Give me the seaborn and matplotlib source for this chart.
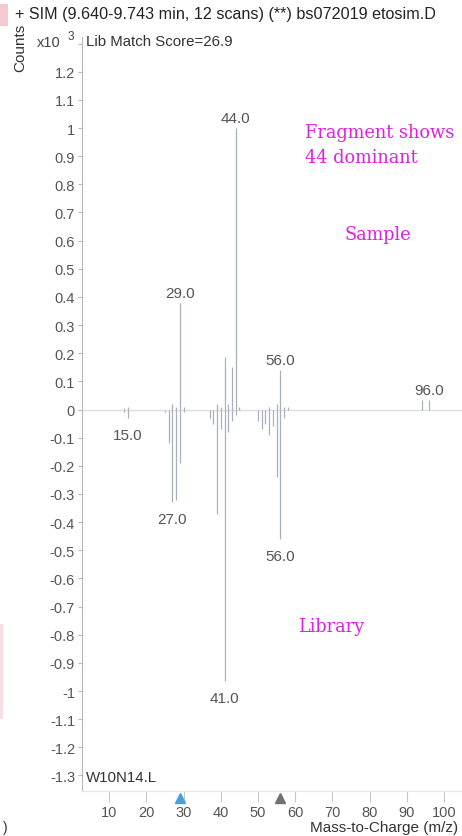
import matplotlib
matplotlib.use("Agg")
import matplotlib.pyplot as plt
import matplotlib.transforms as mtransforms
from matplotlib.patches import Rectangle
import seaborn as sns
import pandas as pd

# ---------------- data ----------------
sample_mz = [14, 15, 27, 28, 30, 29, 39, 40, 41, 42, 43, 44, 45, 53, 55, 56, 57, 58, 94, 96]
sample_int = [0.005, 0.01, 0.02, 0.01, 0.01, 0.38, 0.02, 0.01, 0.185, 0.02, 0.15, 1.0, 0.01,
              0.01, 0.02, 0.14, 0.01, 0.01, 0.035, 0.035]

library_mz = [14, 15, 25, 26, 27, 28, 29, 30, 37, 38, 39, 40, 41, 42, 43, 44,
              50, 51, 52, 53, 54, 55, 56, 57]
library_int = [-0.01, -0.03, -0.01, -0.12, -0.33, -0.32, -0.19, -0.01, -0.03, -0.05, -0.37, -0.07,
               -0.965, -0.08, -0.04, -0.02,
               -0.04, -0.07, -0.05, -0.09, -0.06, -0.24, -0.46, -0.03]

pos_labels_mz = [29, 44, 56, 96]
pos_labels_txt = ["29.0", "44.0", "56.0", "96.0"]
neg_labels_mz = [15, 27, 41, 56]
neg_labels_txt = ["15.0", "27.0", "41.0", "56.0"]

ytick_vals = [1.3, 1.2, 1.1, 1.0, 0.9, 0.8, 0.7, 0.6, 0.5, 0.4, 0.3, 0.2, 0.1, 0.0,
              -0.1, -0.2, -0.3, -0.4, -0.5, -0.6, -0.7, -0.8, -0.9, -1.0, -1.1, -1.2, -1.3]
ytick_txt = ["", "1.2", "1.1", "1", "0.9", "0.8", "0.7", "0.6", "0.5", "0.4", "0.3", "0.2", "0.1", "0",
             "-0.1", "-0.2", "-0.3", "-0.4", "-0.5", "-0.6", "-0.7", "-0.8", "-0.9", "-1", "-1.1", "-1.2", "-1.3"]
xtick_vals = [10, 20, 30, 40, 50, 60, 70, 80, 90, 100]
marker_mz = [29, 56]
marker_colors = ["#4a9fd8", "#707070"]

sample_df = pd.DataFrame({"mz": sample_mz, "counts": sample_int})
library_df = pd.DataFrame({"mz": library_mz, "counts": library_int})
lib_lookup = dict(zip(library_mz, library_int))
samp_lookup = dict(zip(sample_mz, sample_int))

# ---------------- style ----------------
sns.set_theme(style="white")
plt.rcParams["font.family"] = ["Liberation Sans", "DejaVu Sans"]

W, H = 462, 837
fig = plt.figure(figsize=(W / 100, H / 100), dpi=100)
fig.patch.set_facecolor("white")

ax_left, ax_right = 82 / W, 1.0
ax_top_px, ax_bot_px = 38, 792
ax = fig.add_axes([ax_left, 1 - ax_bot_px / H, ax_right - ax_left, (ax_bot_px - ax_top_px) / H])
ax.set_facecolor("white")

zero_px, ppu = 410.5, 281.5
ax.set_ylim((zero_px - ax_bot_px) / ppu, (zero_px - ax_top_px) / ppu)
x0px, xppu = 72.0, 3.72
ax.set_xlim((82 - x0px) / xppu, (W - x0px) / xppu)

line_col = "#a9b0bb"
ax.axhline(0, color="#dcdfe4", lw=1.0, zorder=1)
ax.vlines(sample_df["mz"], 0, sample_df["counts"], color=line_col, lw=0.9, zorder=2)
ax.vlines(library_df["mz"], 0, library_df["counts"], color=line_col, lw=0.9, zorder=2)

lab_col = "#555555"
for mz, t in zip(pos_labels_mz, pos_labels_txt):
    ax.annotate(t, (mz, samp_lookup[mz]), xytext=(0, 2), textcoords="offset points",
                ha="center", va="bottom", fontsize=11, color=lab_col)
for mz, t in zip(neg_labels_mz, neg_labels_txt):
    ax.annotate(t, (mz, lib_lookup[mz]), xytext=(0, -7), textcoords="offset points",
                ha="center", va="top", fontsize=11, color=lab_col)

for s in ["top", "right"]:
    ax.spines[s].set_visible(False)
ax.spines["left"].set_color("#b8b8b8")
ax.spines["left"].set_linewidth(0.8)
ax.spines["bottom"].set_color("#e6e6e6")
ax.spines["bottom"].set_linewidth(0.8)

ax.set_yticks(ytick_vals)
ax.set_yticklabels(ytick_txt)
ax.set_xticks(xtick_vals)
ax.set_xticklabels([str(v) for v in xtick_vals])
ax.tick_params(axis="y", direction="out", length=3, width=0.8, color="#b8b8b8",
               labelsize=10.5, labelcolor="#555555", pad=2, left=True)
ax.tick_params(axis="x", direction="out", length=8, width=0.8, color="#c8c8c8",
               labelsize=10.5, labelcolor="#555555", pad=2, bottom=True)

btrans = mtransforms.blended_transform_factory(ax.transData, ax.transAxes)
for mz, c in zip(marker_mz, marker_colors):
    ax.plot([mz], [-6.5 / (ax_bot_px - ax_top_px)], marker="^", ms=7, color=c,
            transform=btrans, clip_on=False, zorder=5, mec=c)

fig.text(15 / W, 1 - 15 / H, "+ SIM (9.640-9.743 min, 12 scans) (**) bs072019 etosim.D",
         fontsize=11.6, color="#222222", va="center", ha="left")
fig.text(20 / W, 1 - 48 / H, "Counts", rotation=90, fontsize=11, color="#333333",
         va="center", ha="center")
fig.text(37 / W, 1 - 43 / H, "x10", fontsize=10.5, color="#444444", va="center", ha="left")
fig.text(68 / W, 1 - 37 / H, "3", fontsize=8.5, color="#444444", va="center", ha="left")
fig.text(86 / W, 1 - 42 / H, "Lib Match Score=26.9", fontsize=10.8, color="#333333",
         va="center", ha="left")
fig.text(86 / W, 1 - 778 / H, "W10N14.L", fontsize=10.8, color="#333333", va="center", ha="left")
fig.text(458 / W, 1 - 828 / H, "Mass-to-Charge (m/z)", fontsize=11, color="#333333",
         va="center", ha="right")
fig.text(3 / W, 1 - 828 / H, ")", fontsize=10, color="#333333", va="center", ha="left")

mag = "#dd22dd"
serif = ["DejaVu Serif"]
fig.text(305 / W, 1 - 133 / H, "Fragment shows", fontsize=12.8, color=mag, family=serif,
         va="center", ha="left")
fig.text(305 / W, 1 - 158 / H, "44 dominant", fontsize=12.8, color=mag, family=serif,
         va="center", ha="left")
fig.text(345 / W, 1 - 235 / H, "Sample", fontsize=12.8, color=mag, family=serif,
         va="center", ha="left")
fig.text(298 / W, 1 - 627 / H, "Library", fontsize=12.8, color=mag, family=serif,
         va="center", ha="left")

fig.patches.append(Rectangle((0, 1 - 27 / H), 8 / W, 22 / H, transform=fig.transFigure,
                             facecolor="#f4c9cf", edgecolor="none"))
fig.patches.append(Rectangle((0, 1 - 720 / H), 3 / W, 95 / H, transform=fig.transFigure,
                             facecolor="#f6dde0", edgecolor="none"))

fig.savefig("out.png", dpi=100, facecolor="white")
